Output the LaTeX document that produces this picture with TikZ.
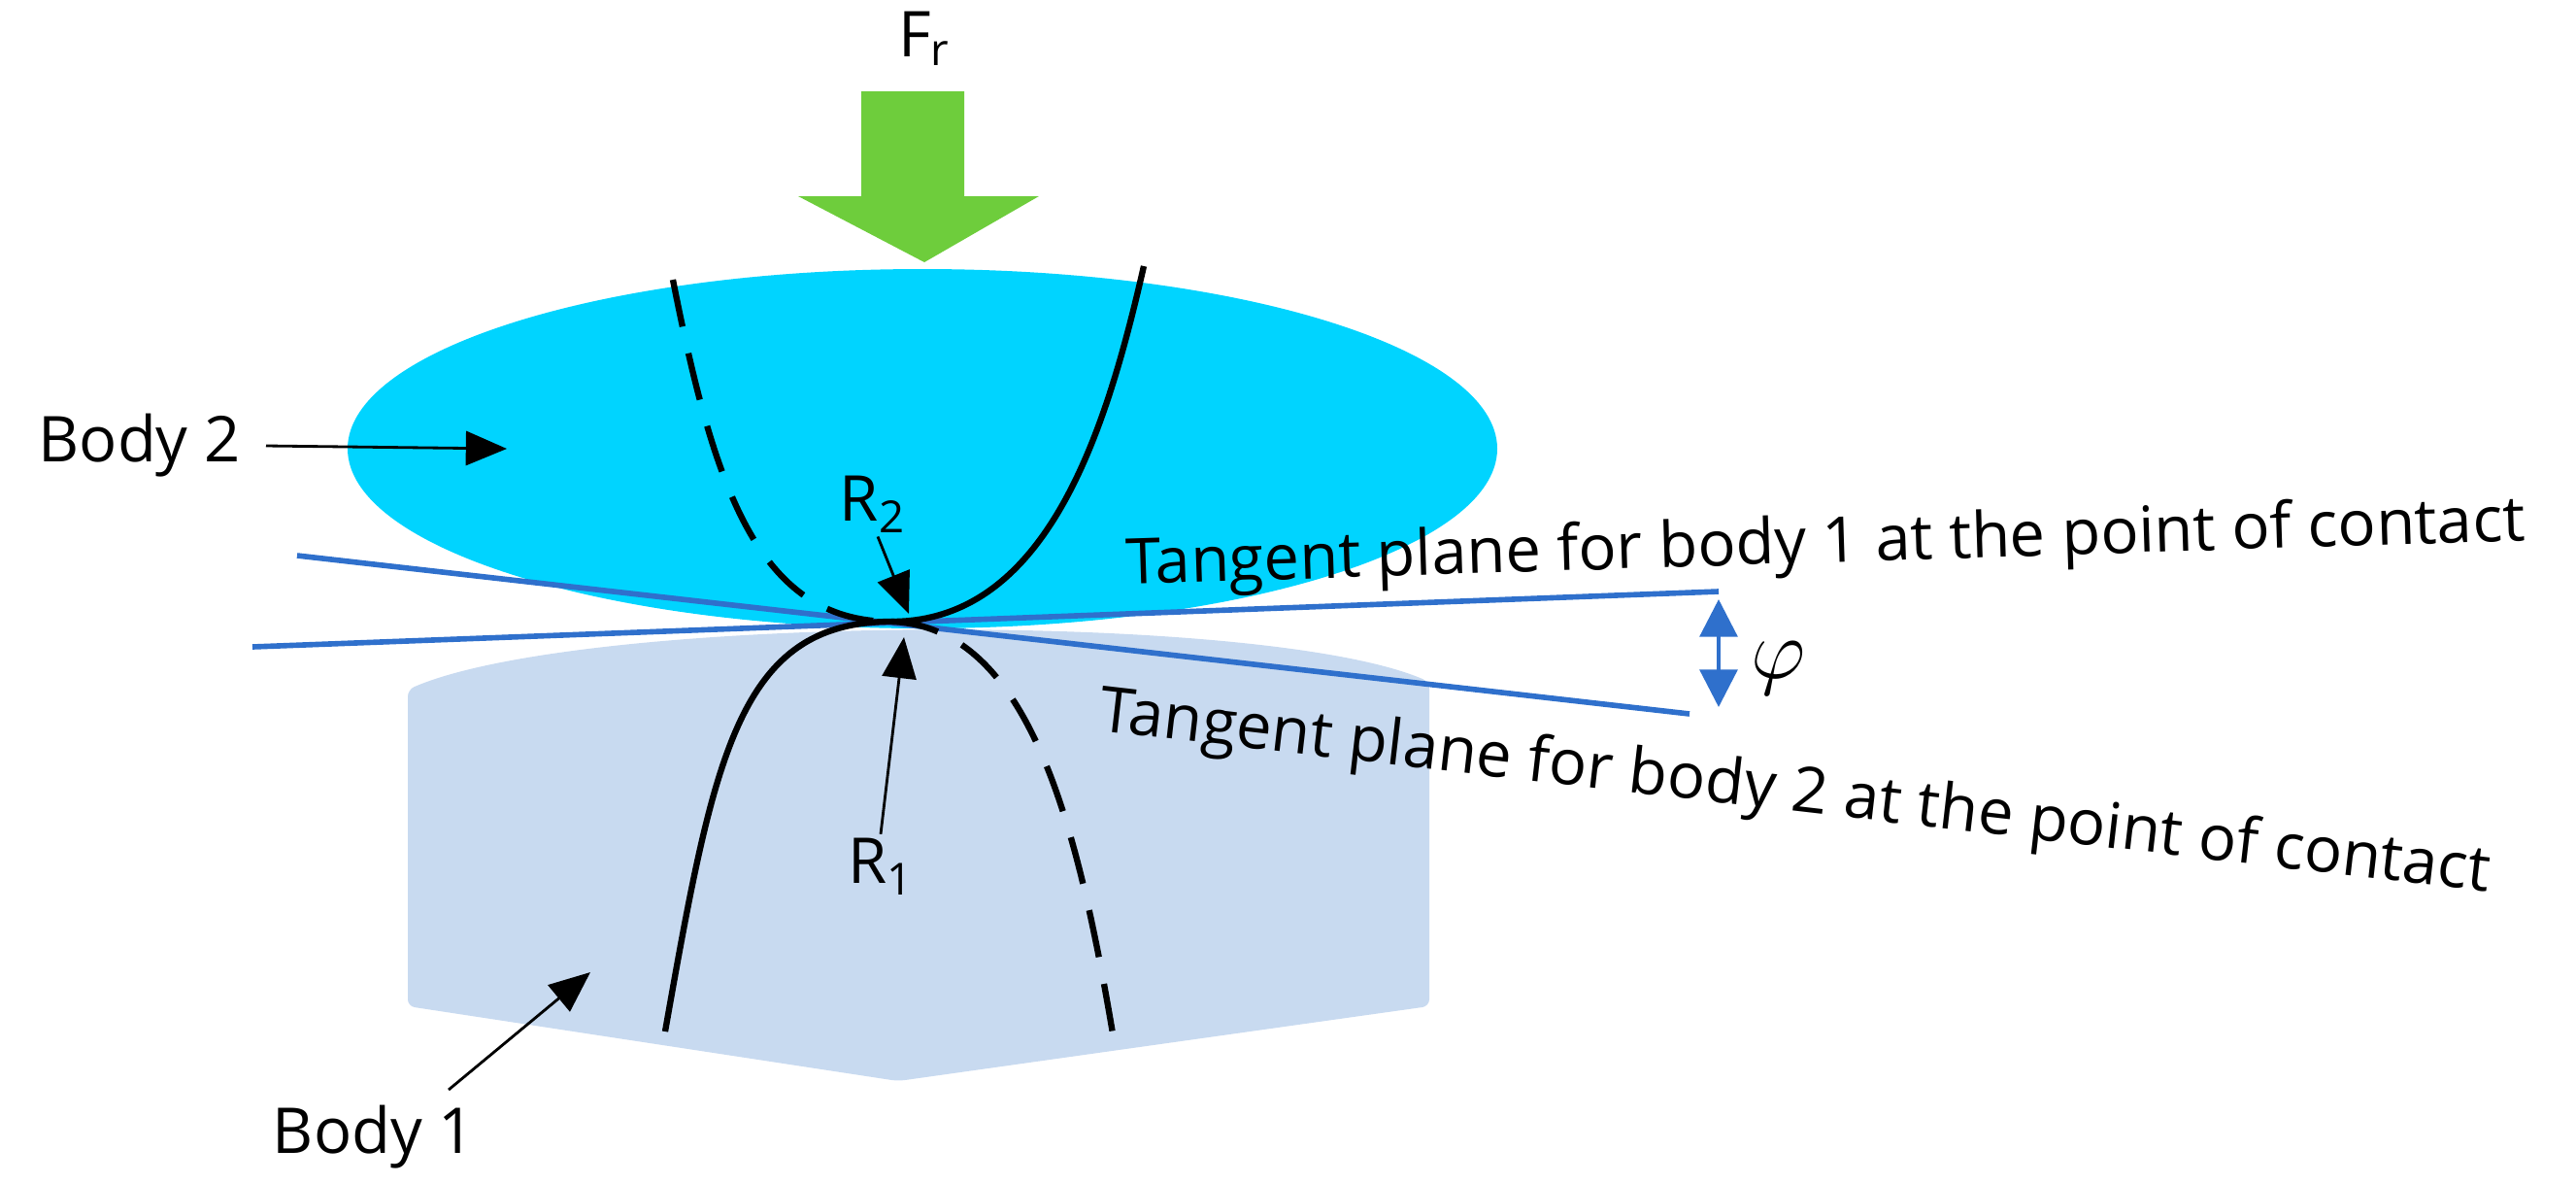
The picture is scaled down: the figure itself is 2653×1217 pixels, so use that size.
\documentclass[tikz,border=0pt]{standalone}
\usepackage{fontspec}
\setmainfont{Open Sans}
\usetikzlibrary{arrows.meta}
\definecolor{bodytwo}{RGB}{0,212,255}
\definecolor{bodyone}{RGB}{200,218,240}
\definecolor{tline}{RGB}{47,112,204}
\definecolor{force}{RGB}{110,205,60}
\tikzset{
  lbl/.style={font=\fontsize{18.5pt}{22pt}\selectfont, inner sep=1pt},
  ptr/.style={-{Triangle[length=12pt,width=10pt]}, line width=0.8pt},
  tan/.style={tline, line width=1.6pt},
  crv/.style={line width=1.8pt},
}
\begin{document}
\begin{tikzpicture}[x=0.01cm,y=-0.01cm]
\useasboundingbox (0,0) rectangle (2653,1217);
% body 1
\fill[bodyone, rounded corners=2pt] (420,710) .. controls (600,632) and (1300,628) .. (1472,702) -- (1472,1036) -- (925,1113) -- (420,1036) -- cycle;
% body 2
\fill[bodytwo] (950,462) ellipse [x radius=592, y radius=185];
% force arrow
\fill[force] (887,94) -- (993,94) -- (993,202) -- (1070,202) -- (952,270) -- (822,202) -- (887,202) -- cycle;
\node[lbl] (fr) at (952,40) {F\textsubscript{r}};
% contact point
\coordinate (c) at (918,640);
\coordinate (t1a) at (306,572); \coordinate (t1b) at (1740,735);
\coordinate (t2a) at (260,666); \coordinate (t2b) at (1770,609);
\draw[tan] (t1a) -- (t1b);
\draw[tan] (t2a) -- (t2b);
% curves
\coordinate (u1) at (1178,274); \coordinate (u2) at (693,288);
\coordinate (l1) at (685,1062); \coordinate (l2) at (1147,1070);
\draw[crv] (c) .. controls (1080,640) and (1140,440) .. (u1);
\draw[crv, dash pattern=on 14pt off 8pt] (u2) .. controls (735,500) and (780,640) .. (c);
\draw[crv] (l1) .. controls (735,780) and (760,640) .. (c);
\draw[crv, dash pattern=on 14pt off 8pt] (c) .. controls (1060,645) and (1110,850) .. (l2);
% labels with pointers
\node[lbl, anchor=east] (b2) at (252,459) {Body 2};
\coordinate (b2t) at (522,462);
\draw[ptr] (274,459) -- (b2t);
\node[lbl] (r2) at (899,519) {R\textsubscript{2}};
\coordinate (r2t) at (936,632);
\draw[ptr] (r2.south) ++(5,0) -- (r2t);
\node[lbl] (r1) at (907,892) {R\textsubscript{1}};
\coordinate (r1t) at (931,656);
\draw[ptr] (r1.north) -- (r1t);
\node[lbl] (b1) at (385,1171) {Body 1};
\coordinate (b1t) at (608,1001);
\draw[ptr] (462,1122) -- (b1t);
% phi
\coordinate (pa) at (1770,617); \coordinate (pb) at (1770,728);
\draw[tline, line width=1.2pt, {Triangle[length=11pt,width=11pt]}-{Triangle[length=11pt,width=11pt]}] (pa) -- (pb);
\node[font=\fontsize{24pt}{28pt}\selectfont] (phi) at (1832,688) {$\varphi$};
% plane texts
\node[lbl, rotate=1.8] (tp1) at (1880,562) {Tangent plane for body 1 at the point of contact};
\node[lbl, rotate=-6.6] (tp2) at (1848,818) {Tangent plane for body 2 at the point of contact};
\end{tikzpicture}
\end{document}
